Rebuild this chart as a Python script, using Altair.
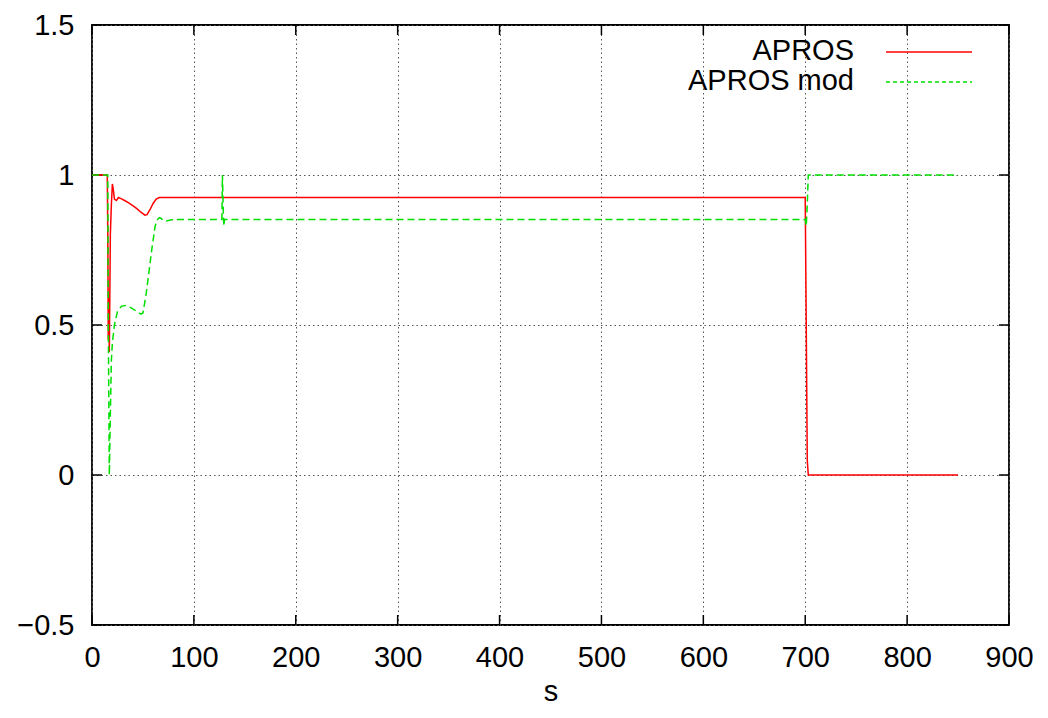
import altair as alt
import pandas as pd

series_names = ["APROS", "APROS mod"]
series_colors = ["#ff0000", "#00e000"]

# APROS (red, solid)
t_apros = [0, 15, 15.5, 16, 16.5, 17, 18, 19, 20, 21, 22, 24, 26, 28, 32, 36, 40, 44, 48, 52,
           54, 57, 60, 63, 66, 70, 700, 701, 702, 703, 850]
v_apros = [1, 1, 0.8, 0.45, 0.6, 0.41, 0.8, 0.9, 0.97, 0.95, 0.92, 0.915, 0.925, 0.922, 0.915,
           0.907, 0.898, 0.888, 0.876, 0.866, 0.868, 0.885, 0.905, 0.92, 0.925, 0.925, 0.925,
           0.5, 0.05, 0, 0]

# APROS mod (green, dashed)
t_mod = [0, 15.5, 16, 17, 18, 19, 20, 22, 25, 29, 33, 38, 44, 48, 50, 53, 56, 59, 62, 64, 66,
         68, 70, 73, 78, 85, 127.5, 128, 129, 129.5, 130, 700, 701, 702, 703, 850]
v_mod = [1, 1, 0.5, 0.0, 0.2, 0.38, 0.44, 0.5, 0.545, 0.563, 0.565, 0.558, 0.545, 0.536, 0.54,
         0.6, 0.68, 0.76, 0.83, 0.85, 0.858, 0.855, 0.848, 0.847, 0.851, 0.852, 0.852, 1.0,
         0.86, 0.83, 0.852, 0.852, 0.83, 0.9, 1.0, 1.0]

x_ticks = [0, 100, 200, 300, 400, 500, 600, 700, 800, 900]
y_ticks = [-0.5, 0, 0.5, 1, 1.5]

W, H = 917, 600
FONT = "Liberation Sans"
FS = 29

df_a = pd.DataFrame({"t": t_apros, "v": v_apros, "i": range(len(t_apros)), "name": series_names[0]})
df_m = pd.DataFrame({"t": t_mod, "v": v_mod, "i": range(len(t_mod)), "name": series_names[1]})

xs = alt.Scale(domain=[0, 900], nice=False, zero=False)
ys = alt.Scale(domain=[-0.5, 1.5], nice=False, zero=False)

grid_axis = dict(grid=True, gridColor="#555555", gridDash=[1.5, 3], gridWidth=1,
                 domain=False, ticks=False, labelFont=FONT, labelFontSize=FS,
                 labelColor="black", labelPadding=18, labelFlush=False)

x_axis = alt.Axis(values=x_ticks, format="d", title="s", titleFont=FONT,
                  titleFontSize=FS, titleFontWeight="normal", titleColor="black",
                  titlePadding=5, **grid_axis)
y_axis = alt.Axis(values=y_ticks, format="~r", title="", **grid_axis)


def X(field):
    return alt.X(field, scale=xs, axis=x_axis)


def Y(field):
    return alt.Y(field, scale=ys, axis=y_axis)


red = alt.Chart(df_a).mark_line(color=series_colors[0], strokeWidth=1.5, interpolate="linear").encode(
    x=X("t:Q"), y=Y("v:Q"), order="i:Q")
green = alt.Chart(df_m).mark_line(color=series_colors[1], strokeWidth=1.5, strokeDash=[7, 4],
                                  interpolate="linear").encode(
    x=X("t:Q"), y=Y("v:Q"), order="i:Q")

ydf = pd.DataFrame({"v": y_ticks})
xdf = pd.DataFrame({"t": x_ticks})
tick_l = alt.Chart(ydf).mark_rule(color="black", strokeWidth=1.5).encode(
    y=Y("v:Q"), x=alt.value(0), x2=alt.value(10))
tick_r = alt.Chart(ydf).mark_rule(color="black", strokeWidth=1.5).encode(
    y=Y("v:Q"), x=alt.value(W - 10), x2=alt.value(W))
tick_b = alt.Chart(xdf).mark_rule(color="black", strokeWidth=1.5).encode(
    x=X("t:Q"), y=alt.value(H), y2=alt.value(H - 10))
tick_t = alt.Chart(xdf).mark_rule(color="black", strokeWidth=1.5).encode(
    x=X("t:Q"), y=alt.value(0), y2=alt.value(10))

legend_layers = []
leg_y = [26, 56]
for k, name in enumerate(series_names):
    ldf = pd.DataFrame({"name": [name]})
    legend_layers.append(
        alt.Chart(ldf).mark_text(align="right", baseline="middle", font=FONT, fontSize=FS,
                                 color="black").encode(
            text="name:N", x=alt.value(762), y=alt.value(leg_y[k])))
    rule_kwargs = dict(color=series_colors[k], strokeWidth=1.5)
    if k == 1:
        rule_kwargs["strokeDash"] = [4, 3]
    legend_layers.append(
        alt.Chart(ldf).mark_rule(**rule_kwargs).encode(
            x=alt.value(794), x2=alt.value(880), y=alt.value(leg_y[k] + 1)))

chart = alt.layer(tick_l, tick_r, tick_b, tick_t, red, green, *legend_layers).properties(
    width=W, height=H,
    background="white",
    autosize=alt.AutoSizeParams(type="none"),
    padding={"left": 84, "top": 17, "right": 31, "bottom": 85},
).configure_view(stroke="black", strokeWidth=1.8)

chart.save("out.html", embed_options={"renderer": "svg", "actions": False})
